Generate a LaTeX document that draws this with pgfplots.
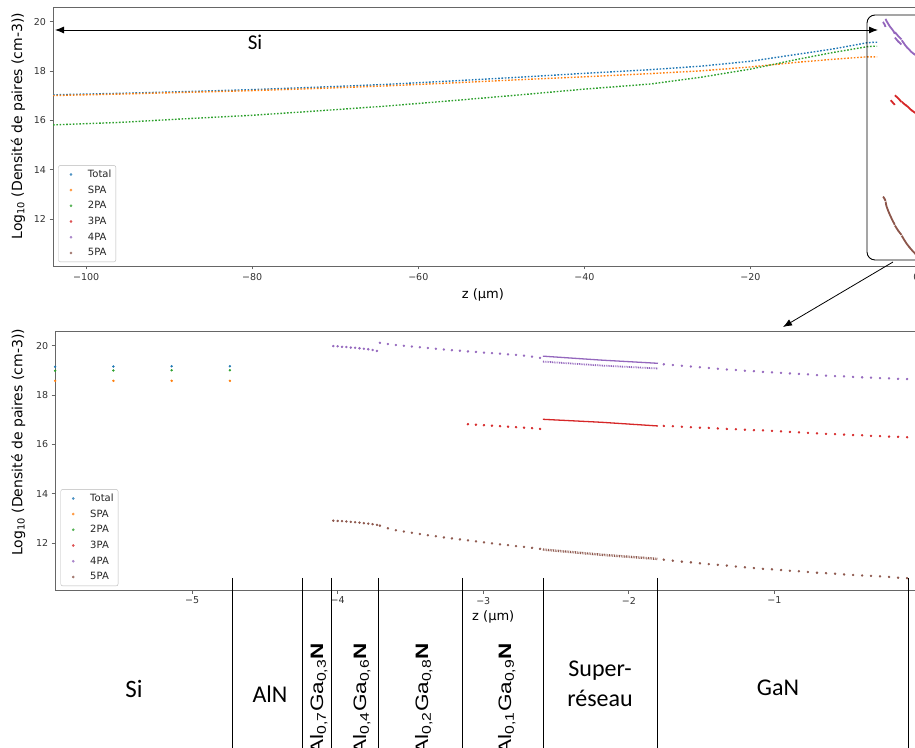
\documentclass[border=0pt]{standalone}
\usepackage{fontspec}
\setmainfont{DejaVu Sans}
\newfontfamily\calib{Carlito}
\newfontfamily\arialf{Liberation Sans}
\usepackage{graphicx}
\usepackage{pgfplots}
\pgfplotsset{compat=1.18}
\usepackage{pgfplotstable}
\usetikzlibrary{arrows.meta}

\definecolor{cblue}{HTML}{1F77B4}
\definecolor{corange}{HTML}{FF7F0E}
\definecolor{cgreen}{HTML}{2CA02C}
\definecolor{cred}{HTML}{D62728}
\definecolor{cpurple}{HTML}{9467BD}
\definecolor{cbrown}{HTML}{8C564B}

% Si layer: Total, SPA, 2PA
\pgfplotstableread{
z tot spa tpa
-104 17.04 17.01 15.82
-96 17.10 17.07 15.92
-88 17.17 17.14 16.07
-80 17.25 17.21 16.21
-72 17.35 17.30 16.39
-64 17.46 17.40 16.58
-56 17.60 17.52 16.80
-48 17.75 17.65 17.03
-40 17.91 17.77 17.27
-32 18.06 17.90 17.48
-26 18.20 18.01 17.75
-20 18.40 18.17 18.08
-14 18.70 18.37 18.50
-10 18.90 18.48 18.76
-5.94 19.15 18.58 18.99
-5.54 19.16 18.58 19.00
-5.14 19.17 18.58 19.01
-4.74 19.17 18.58 19.01
}\sitab

% Al0.4Ga0.6N layer: 4PA, 5PA
\pgfplotstableread{
z p4 p5
-4.03 19.99 12.91
-4.00 19.98 12.90
-3.97 19.96 12.89
-3.94 19.95 12.88
-3.91 19.93 12.86
-3.88 19.92 12.85
-3.85 19.90 12.83
-3.82 19.88 12.81
-3.79 19.86 12.79
-3.76 19.83 12.77
-3.73 19.79 12.74
}\alA

% Al0.2 / Al0.1 layers: 4PA, 5PA, 3PA
\pgfplotstableread{
z p4 p5 p3
-3.710 20.12 12.71 nan
-3.655 20.07 12.60 nan
-3.600 20.03 12.52 nan
-3.545 20.00 12.47 nan
-3.490 19.97 12.42 nan
-3.435 19.94 12.37 nan
-3.380 19.91 12.32 nan
-3.325 19.88 12.28 nan
-3.270 19.85 12.23 nan
-3.215 19.82 12.19 nan
-3.160 19.80 12.15 nan
-3.105 19.77 12.11 16.82
-3.050 19.75 12.07 16.80
-2.995 19.72 12.03 16.78
-2.940 19.70 11.99 16.76
-2.885 19.68 11.95 16.74
-2.830 19.65 11.92 16.72
-2.775 19.63 11.88 16.70
-2.720 19.60 11.85 16.68
-2.665 19.56 11.81 16.66
-2.610 19.51 11.77 16.63
}\alB

% Superlattice
\pgfplotstableread{
z p4a p4b p3 p5
-2.59 19.58 19.36 17.02 11.74
-2.19 19.42 19.20 16.90 11.53
-1.80 19.29 19.08 16.75 11.36
}\sltab

% GaN layer
\pgfplotstableread{
z p4 p3 p5
-1.760 19.25 16.75 11.33
-1.698 19.22 16.74 11.29
-1.636 19.19 16.72 11.25
-1.574 19.16 16.70 11.22
-1.512 19.13 16.68 11.18
-1.451 19.10 16.67 11.15
-1.389 19.07 16.65 11.12
-1.327 19.04 16.63 11.09
-1.265 19.02 16.62 11.05
-1.203 18.99 16.60 11.02
-1.141 18.97 16.58 10.99
-1.079 18.94 16.57 10.96
-1.017 18.92 16.55 10.94
-0.955 18.90 16.53 10.91
-0.894 18.88 16.51 10.88
-0.832 18.86 16.49 10.86
-0.770 18.84 16.47 10.83
-0.708 18.81 16.45 10.80
-0.646 18.79 16.43 10.78
-0.584 18.77 16.42 10.76
-0.522 18.76 16.40 10.73
-0.460 18.74 16.38 10.71
-0.398 18.72 16.37 10.69
-0.337 18.71 16.35 10.67
-0.275 18.69 16.34 10.65
-0.213 18.68 16.32 10.63
-0.151 18.66 16.31 10.60
-0.089 18.65 16.29 10.58
}\gantab

\pgfplotsset{
  mpl/.style={
    scale only axis,
    height=259pt,
    ymin=10.1, ymax=20.6,
    ytick={12,14,16,18,20},
    yticklabels={12,14,16,18,20},
    axis line style={black!60, line width=0.9pt},
    tick align=outside, tick pos=left,
    major tick length=3.5pt,
    every tick/.style={black!60, line width=0.8pt},
    tick label style={font=\fontsize{9.5}{11}\selectfont, text=black!80},
    ylabel={Log\textsubscript{10} (Densité de paires (cm-3))},
    xlabel={z (µm)},
    legend cell align=left,
    legend style={
      at={(axis description cs:0.006,0.015)}, anchor=south west,
      draw=black!28, rounded corners=2pt, fill=white,
      font=\fontsize{10}{12}\selectfont, text=black!85,
      inner sep=3pt, row sep=3.7pt, column sep=4pt,
      nodes={inner sep=1.5pt, text height=7.5pt, text depth=1.5pt}},
  },
  lg/.style={only marks, mark=*, mark size=1pt, #1,
    legend image code/.code={\path[draw=none,fill=none] (0pt,0pt) -- (21pt,0pt);
      \fill[#1!80] (9.5pt,0pt) circle (1.1pt);}},
  mk/.style={forget plot, only marks, mark=*, mark size=1pt, #1},
  sil/.style={forget plot, #1, line width=1.4pt, dash pattern=on 1.6pt off 1.7pt},
  thk/.style={forget plot, #1, line width=1.8pt},
}

\begin{document}
\begin{tikzpicture}
\useasboundingbox (0pt,0pt) rectangle (915pt,747pt);
\clip (0pt,0pt) rectangle (915pt,747pt);

% ---------------- top axis ----------------
\begin{axis}[mpl,
  at={(53pt,481pt)}, anchor=south west,
  width=880pt,
  xmin=-104, xmax=2,
  xtick={-100,-80,-60,-40,-20,0},
  xticklabels={−100,−80,−60,−40,−20,0},
  ylabel style={font=\fontsize{14}{16}\selectfont, at={(axis description cs:-0.0398,0.54)}, anchor=center},
  xlabel style={font=\fontsize{13}{15}\selectfont, at={(axis description cs:0.4886,0)}, anchor=center, yshift=-29pt},
]
\addlegendimage{lg=cblue}\addlegendentry{Total}
\addlegendimage{lg=corange}\addlegendentry{SPA}
\addlegendimage{lg=cgreen}\addlegendentry{2PA}
\addlegendimage{lg=cred}\addlegendentry{3PA}
\addlegendimage{lg=cpurple}\addlegendentry{4PA}
\addlegendimage{lg=cbrown}\addlegendentry{5PA}

\addplot[sil=cblue] table[x=z,y=tot]{\sitab};
\addplot[sil=corange] table[x=z,y=spa]{\sitab};
\addplot[sil=cgreen] table[x=z,y=tpa]{\sitab};

\addplot[thk=cpurple] table[x=z,y=p4]{\alA};
\addplot[thk=cbrown] table[x=z,y=p5]{\alA};
\addplot[thk=cpurple] table[x=z,y=p4]{\alB};
\addplot[thk=cbrown] table[x=z,y=p5]{\alB};
\addplot[thk=cred] table[x=z,y=p3]{\alB};
\addplot[thk=cpurple] table[x=z,y=p4a]{\sltab};
\addplot[thk=cpurple] table[x=z,y=p4b]{\sltab};
\addplot[thk=cred] table[x=z,y=p3]{\sltab};
\addplot[thk=cbrown] table[x=z,y=p5]{\sltab};
\addplot[thk=cpurple] table[x=z,y=p4]{\gantab};
\addplot[thk=cred] table[x=z,y=p3]{\gantab};
\addplot[thk=cbrown] table[x=z,y=p5]{\gantab};
\end{axis}

% ---------------- bottom axis ----------------
\begin{axis}[mpl,
  at={(55pt,157pt)}, anchor=south west,
  width=894pt,
  xmin=-5.94, xmax=0.2,
  xtick={-5,-4,-3,-2,-1},
  xticklabels={−5,−4,−3,−2,−1},
  ylabel style={font=\fontsize{14}{16}\selectfont, at={(axis description cs:-0.0414,0.57)}, anchor=center},
  xlabel style={font=\fontsize{13}{15}\selectfont, at={(axis description cs:0.49,0)}, anchor=center, yshift=-27pt},
]
\addlegendimage{lg=cblue}\addlegendentry{Total}
\addlegendimage{lg=corange}\addlegendentry{SPA}
\addlegendimage{lg=cgreen}\addlegendentry{2PA}
\addlegendimage{lg=cred}\addlegendentry{3PA}
\addlegendimage{lg=cpurple}\addlegendentry{4PA}
\addlegendimage{lg=cbrown}\addlegendentry{5PA}

\addplot[mk=cblue] table[x=z,y=tot]{\sitab};
\addplot[mk=corange] table[x=z,y=spa]{\sitab};
\addplot[mk=cgreen] table[x=z,y=tpa]{\sitab};

\addplot[mk=cpurple] table[x=z,y=p4]{\alA};
\addplot[mk=cbrown] table[x=z,y=p5]{\alA};
\addplot[mk=cpurple] table[x=z,y=p4]{\alB};
\addplot[mk=cbrown] table[x=z,y=p5]{\alB};
\addplot[mk=cred] table[x=z,y=p3]{\alB};

\addplot[forget plot, cpurple, line width=1.3pt] table[x=z,y=p4a]{\sltab};
\addplot[forget plot, cpurple, line width=1.8pt, dash pattern=on 0.9pt off 0.9pt] table[x=z,y=p4b]{\sltab};
\addplot[forget plot, cred, line width=1.3pt] table[x=z,y=p3]{\sltab};
\addplot[forget plot, cbrown, line width=2.4pt, dash pattern=on 0.8pt off 0.9pt] table[x=z,y=p5]{\sltab};

\addplot[mk=cpurple] table[x=z,y=p4]{\gantab};
\addplot[mk=cred] table[x=z,y=p3]{\gantab};
\addplot[mk=cbrown] table[x=z,y=p5]{\gantab};
\end{axis}

% ---------------- annotations ----------------
\begin{scope}[x=1pt,y=1pt]
\draw[line width=0.9pt, {Latex[length=9pt,width=7pt]}-{Latex[length=9pt,width=7pt]}] (55,717) -- (878,717);
\node[font=\calib\fontsize{21}{24}\selectfont, anchor=base] at (255,697) {Si};
\draw[line width=0.9pt, rounded corners=8pt] (867,487) rectangle (960,732);
\draw[line width=0.8pt, -{Latex[length=9pt,width=7pt]}] (893,485) -- (783,420);

\foreach \xx in {232.3,302.2,331.5,378.8,462.8,543,657.3,908.3}
  \draw[line width=0.8pt] (\xx,169) -- (\xx,-5);

\node[font=\calib\fontsize{25}{30}\selectfont, anchor=base] at (134,50) {Si};
\node[font=\calib\fontsize{24}{30}\selectfont, anchor=base] at (270,45) {AlN};
\node[font=\calib\fontsize{24}{30}\selectfont, anchor=base] at (600,71) {Super-};
\node[font=\calib\fontsize{24}{30}\selectfont, anchor=base] at (600,41) {réseau};
\node[font=\calib\fontsize{24}{30}\selectfont, anchor=base] at (778,52) {GaN};

\node[rotate=90, anchor=base east, inner sep=0pt, font=\arialf\fontsize{18}{20}\selectfont] at (323,104) {\scalebox{1.25}[1]{Al\textsubscript{0,7}Ga\textsubscript{0,3}\textbf{N}}};
\node[rotate=90, anchor=base east, inner sep=0pt, font=\arialf\fontsize{18}{20}\selectfont] at (366,104) {\scalebox{1.25}[1]{Al\textsubscript{0,4}Ga\textsubscript{0,6}\textbf{N}}};
\node[rotate=90, anchor=base east, inner sep=0pt, font=\arialf\fontsize{18}{20}\selectfont] at (428,104) {\scalebox{1.25}[1]{Al\textsubscript{0,2}Ga\textsubscript{0,8}\textbf{N}}};
\node[rotate=90, anchor=base east, inner sep=0pt, font=\arialf\fontsize{18}{20}\selectfont] at (511,104) {\scalebox{1.25}[1]{Al\textsubscript{0,1}Ga\textsubscript{0,9}\textbf{N}}};
\end{scope}
\end{tikzpicture}
\end{document}
